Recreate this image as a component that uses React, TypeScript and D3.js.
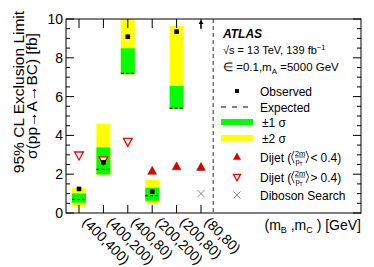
import React from "react";
import * as d3 from "d3";

const categories = ["(400,400)", "(400,200)", "(400,80)", "(200,200)", "(200,80)", "(80,80)"];
const observed = [1.24, 2.61, 9.09, 1.1, 9.35, 12];
const expected = [0.7, 2.25, 7.2, 0.89, 5.4, NaN];
const sigma1Low = [0.53, 1.99, 7.16, 0.63, 5.38, NaN];
const sigma1High = [1.01, 3.38, 8.49, 1.3, 6.55, NaN];
const sigma2Low = [0.33, 1.97, 7.14, 0.5, 5.36, NaN];
const sigma2High = [1.3, 4.6, 12, 1.7, 9.64, NaN];
const dijetLow = [NaN, NaN, NaN, 2.16, 2.39, 2.36];
const dijetHigh = [2.98, 2.73, 3.68, NaN, NaN, NaN];
const diboson = [NaN, NaN, NaN, NaN, NaN, 1.0];
const yTicks = [0, 2, 4, 6, 8, 10];

const FONT = "'Liberation Sans', Arial, Helvetica, sans-serif";
const L = 66, R = 361, T = 19, B = 213;

export default function App() {
  const x = d3.scaleLinear().domain([0, 5]).range([79, 201]);
  const y = d3.scaleLinear().domain([0, 10]).range([B, T]);
  const minor = d3.range(0, 10.01, 0.5);
  const hw = 7;
  const clipY = (v: number) => Math.max(T, Math.min(B, y(v)));
  const triUp = (cx: number, cy: number, s: number) =>
    `M${cx},${cy - s * 0.6}L${cx + s * 0.55},${cy + s * 0.4}L${cx - s * 0.55},${cy + s * 0.4}Z`;
  const triDown = (cx: number, cy: number, s: number) =>
    `M${cx},${cy + s * 0.6}L${cx + s * 0.55},${cy - s * 0.4}L${cx - s * 0.55},${cy - s * 0.4}Z`;
  const cross = (cx: number, cy: number, s: number) =>
    `M${cx - s},${cy - s}L${cx + s},${cy + s}M${cx - s},${cy + s}L${cx + s},${cy - s}`;

  const lx = 237, tx = 260;
  const legY = { obs: 91, exp: 107, s1: 122, s2: 138, dl: 157, dh: 177, db: 195 };

  const dijetLabel = (cy: number, rel: string) => (
    <g>
      <text x={tx} y={cy + 4.5} fontSize={12}>Dijet (</text>
      <path d={`M${294},${cy - 6}L${291.5},${cy}L${294},${cy + 6}`} fill="none" stroke="#000" strokeWidth={0.8} />
      <text x={300} y={cy - 1.3} fontSize={7.5} textAnchor="middle">2m</text>
      <line x1={295} x2={305} y1={cy} y2={cy} stroke="#000" strokeWidth={0.6} />
      <text x={299} y={cy + 7} fontSize={7.5} textAnchor="middle">p<tspan fontSize={5} dy={1.5}>T</tspan></text>
      <path d={`M${306},${cy - 6}L${308.5},${cy}L${306},${cy + 6}`} fill="none" stroke="#000" strokeWidth={0.8} />
      <text x={310.5} y={cy + 4.5} fontSize={12}>{rel}</text>
      <text x={320.5} y={cy + 4.5} fontSize={12}>0.4)</text>
    </g>
  );

  return (
    <svg width={374} height={267} style={{ position: "absolute", left: 0, top: 0, background: "#fff" }} fontFamily={FONT}>
      <defs>
        <clipPath id="frame"><rect x={L} y={T} width={R - L} height={B - T} /></clipPath>
      </defs>
      <g clipPath="url(#frame)">
        {categories.map((c, i) =>
          isNaN(sigma2High[i]) ? null : (
            <g key={"b" + i}>
              <rect x={x(i) - hw} width={2 * hw} y={clipY(sigma2High[i])} height={clipY(sigma2Low[i]) - clipY(sigma2High[i])} fill="#ffff00" />
              <rect x={x(i) - hw} width={2 * hw} y={clipY(sigma1High[i])} height={clipY(sigma1Low[i]) - clipY(sigma1High[i])} fill="#00ff00" />
              <line x1={x(i) - hw} x2={x(i) + hw} y1={y(expected[i])} y2={y(expected[i])} stroke="#000" strokeWidth={1} strokeDasharray="3,2" />
            </g>
          )
        )}
      </g>
      {/* Dashed separator */}
      <line x1={x(5.5)} x2={x(5.5)} y1={T} y2={B} stroke="#333" strokeWidth={1} strokeDasharray="4,3" />
      {/* Dijet markers */}
      {dijetHigh.map((v, i) => isNaN(v) ? null : (
        <path key={"dh" + i} d={triDown(x(i), y(v), 8)} fill="#fff" stroke="#ff0000" strokeWidth={1.3} />
      ))}
      {dijetLow.map((v, i) => isNaN(v) ? null : (
        <path key={"dl" + i} d={triUp(x(i), y(v), 8)} fill="#dd0000" stroke="#aa0000" strokeWidth={0.5} />
      ))}
      {diboson.map((v, i) => isNaN(v) ? null : (
        <path key={"db" + i} d={cross(x(i), y(v), 3.5)} stroke="#888" strokeWidth={1} fill="none" />
      ))}
      {/* Observed */}
      {observed.map((v, i) => v > 10 ? (
        <g key={"o" + i}>
          <line x1={x(i)} x2={x(i)} y1={y(10) + 10} y2={y(10) + 3} stroke="#000" strokeWidth={1.2} />
          <path d={`M${x(i)},${y(10) + 1}L${x(i) + 2.5},${y(10) + 5}L${x(i) - 2.5},${y(10) + 5}Z`} fill="#000" />
        </g>
      ) : (
        <rect key={"o" + i} x={x(i) - 2.3} y={y(v) - 2.3} width={4.6} height={4.6} fill="#000" />
      ))}
      {/* Frame */}
      <rect x={L} y={T} width={R - L} height={B - T} fill="none" stroke="#000" strokeWidth={1} />
      {/* Y ticks left and right */}
      {minor.map((v) => {
        const major = Math.abs(v % 2) < 1e-6;
        const len = major ? 8 : 4;
        return (
          <g key={"t" + v}>
            <line x1={L} x2={L + len} y1={y(v)} y2={y(v)} stroke="#000" strokeWidth={1} />
            <line x1={R} x2={R - len} y1={y(v)} y2={y(v)} stroke="#000" strokeWidth={1} />
          </g>
        );
      })}
      {yTicks.map((v) => (
        <text key={"yl" + v} x={L - 3} y={y(v) + 5} fontSize={14} textAnchor="end">{v}</text>
      ))}
      {/* X ticks top and bottom */}
      {categories.map((c, i) => (
        <g key={"xt" + i}>
          <line x1={x(i)} x2={x(i)} y1={T} y2={T + 9} stroke="#000" strokeWidth={1} />
          <line x1={x(i)} x2={x(i)} y1={B} y2={B - 8} stroke="#000" strokeWidth={1} />
          <text transform={`translate(${x(i) + 2.5},${B + 10}) rotate(45)`} fontSize={14} textAnchor="start">{c}</text>
        </g>
      ))}
      {/* Axis titles */}
      <text transform={`translate(24,92) rotate(-90)`} fontSize={15.5} textAnchor="middle">95% CL Exclusion Limit</text>
      <text transform={`translate(37,96) rotate(-90)`} fontSize={15.5} textAnchor="middle">σ(pp→A→BC) [fb]</text>
      <text x={R} y={230} fontSize={14} textAnchor="end">
        (m<tspan fontSize={9} dy={3}>B</tspan><tspan dy={-3}> ,m</tspan><tspan fontSize={9} dy={3}>C</tspan><tspan dy={-3}> ) [GeV]</tspan>
      </text>
      {/* Legend header */}
      <text x={223} y={38} fontSize={12} fontWeight="bold" fontStyle="italic">ATLAS</text>
      <text x={223} y={54} fontSize={11}>√s = 13 TeV, 139 fb<tspan fontSize={7.5} dy={-4}>−1</tspan></text>
      <text x={223} y={71} fontSize={11.5}>∈ =0.1,m<tspan fontSize={8} dy={3}>A</tspan><tspan dy={-3}> =5000 GeV</tspan></text>
      {/* Legend entries */}
      <rect x={lx - 2} y={legY.obs - 2} width={4} height={4} fill="#000" />
      <text x={tx} y={legY.obs + 4.5} fontSize={12}>Observed</text>
      <line x1={221} x2={252} y1={legY.exp} y2={legY.exp} stroke="#000" strokeWidth={1} strokeDasharray="5,6" />
      <text x={tx} y={legY.exp + 4.5} fontSize={12}>Expected</text>
      <rect x={221} y={legY.s1 - 3} width={32} height={6} fill="#00ff00" />
      <text x={tx + 2} y={legY.s1 + 4.5} fontSize={12}>±1 σ</text>
      <rect x={221} y={legY.s2 - 3} width={32} height={6} fill="#ffff00" />
      <text x={tx + 2} y={legY.s2 + 4.5} fontSize={12}>±2 σ</text>
      <path d={triUp(lx, legY.dl, 6.5)} fill="#dd0000" stroke="#aa0000" strokeWidth={0.5} />
      {dijetLabel(legY.dl, "<")}
      <path d={triDown(lx, legY.dh, 6.5)} fill="#fff" stroke="#ff0000" strokeWidth={1.3} />
      {dijetLabel(legY.dh, ">")}
      <path d={cross(lx, legY.db, 3.5)} stroke="#888" strokeWidth={1} fill="none" />
      <text x={tx} y={legY.db + 4.5} fontSize={12}>Diboson Search</text>
    </svg>
  );
}
